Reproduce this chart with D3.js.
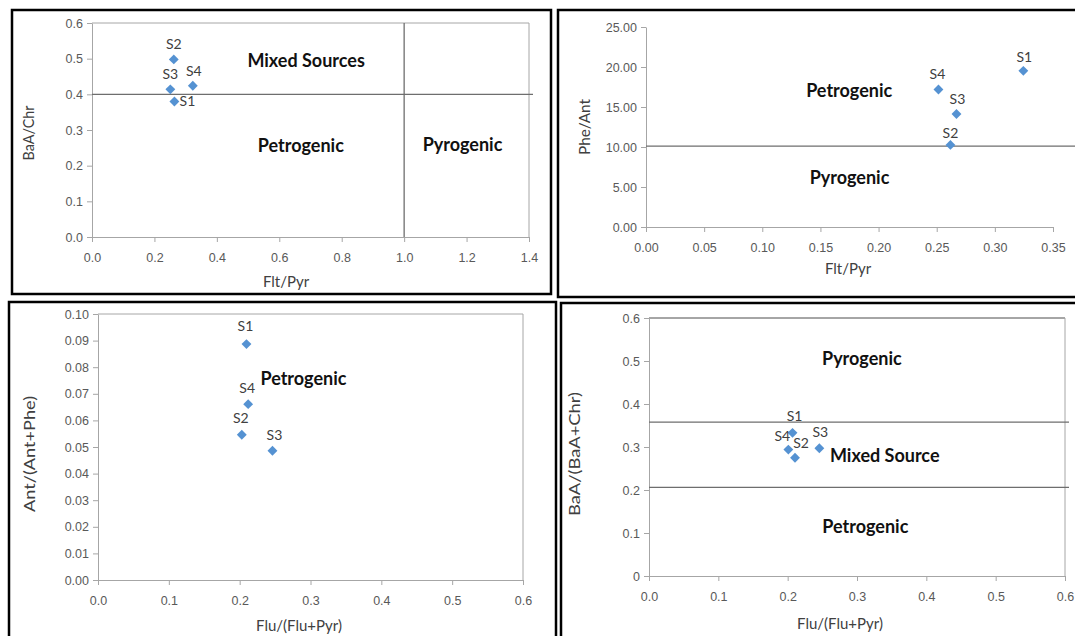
<!DOCTYPE html>
<html>
<head>
<meta charset="utf-8">
<script src="https://cdn.jsdelivr.net/npm/d3@7"></script>
<style>
  body { margin: 0; background: #fff; }
  svg { display: block; font-family: Lato, "Open Sans", sans-serif; }
  .tick text { fill: #595959; font-size: 12.5px; }
  .axis-title { fill: #404040; font-size: 15px; }
  .axis-title.y { font-size: 16px; }
  .region { fill: #111; font-size: 18px; font-weight: bold; }
  .pt-label { fill: #404040; font-size: 14px; }
</style>
</head>
<body>
<div id="chart"></div>
<script>
// sample sites
const sites = ["S1", "S2", "S3", "S4"];

// panel 1: Flt/Pyr vs BaA/Chr
const p1FltPyr = [0.264, 0.262, 0.251, 0.323];
const p1BaAChr = [0.380, 0.498, 0.414, 0.424];
// panel 2: Flt/Pyr vs Phe/Ant
const p2FltPyr = [0.3245, 0.2618, 0.267, 0.2515];
const p2PheAnt = [19.52, 10.26, 14.12, 17.19];
// panel 3: Flu/(Flu+Pyr) vs Ant/(Ant+Phe)
const p3FluFluPyr = [0.2096, 0.203, 0.2463, 0.212];
const p3AntAntPhe = [0.0887, 0.0546, 0.0486, 0.0661];
// panel 4: Flu/(Flu+Pyr) vs BaA/(BaA+Chr)
const p4FluFluPyr = [0.207, 0.2106, 0.2457, 0.201];
const p4BaABaAChr = [0.333, 0.275, 0.297, 0.294];

// source thresholds
const p1Thresholds = {x: [1.0], y: [0.4]};
const p2Thresholds = {x: [], y: [10.1]};
const p3Thresholds = {x: [], y: []};
const p4Thresholds = {x: [], y: [0.358, 0.206]};

// region labels [text, x, y]
const p1Regions = [["Mixed Sources", 0.686, 0.476], ["Petrogenic", 0.669, 0.238], ["Pyrogenic", 1.187, 0.241]];
const p2Regions = [["Petrogenic", 0.1747, 16.3], ["Pyrogenic", 0.175, 5.4]];
const p3Regions = [["Petrogenic", 0.29, 0.0732]];
const p4Regions = [["Pyrogenic", 0.307, 0.49], ["Mixed Source", 0.34, 0.264], ["Petrogenic", 0.312, 0.099]];

const W = 1075, H = 636;
const svg = d3.select("#chart").append("svg").attr("width", W).attr("height", H);

function drawPanel(cfg) {
  // outer black frame
  svg.append("rect")
    .attr("x", cfg.frame[0]).attr("y", cfg.frame[1])
    .attr("width", cfg.frame[2] - cfg.frame[0]).attr("height", cfg.frame[3] - cfg.frame[1])
    .attr("fill", "none").attr("stroke", "#000").attr("stroke-width", 2.5);

  const x = d3.scaleLinear().domain(cfg.xDomain).range(cfg.xRange);
  const y = d3.scaleLinear().domain(cfg.yDomain).range(cfg.yRange);
  const g = svg.append("g");

  // plot area box (top/right)
  if (cfg.box) {
    g.append("line")
      .attr("x1", cfg.xRange[0]).attr("x2", cfg.xRange[1])
      .attr("y1", cfg.yRange[1]).attr("y2", cfg.yRange[1])
      .attr("stroke", cfg.topColor || "#a6a6a6").attr("stroke-width", 1);
    g.append("line")
      .attr("x1", cfg.xRange[1]).attr("x2", cfg.xRange[1])
      .attr("y1", cfg.yRange[0]).attr("y2", cfg.yRange[1])
      .attr("stroke", "#a6a6a6").attr("stroke-width", 1);
  }

  const xAxis = d3.axisBottom(x).tickValues(cfg.xTicks).tickFormat(d3.format(cfg.xFmt)).tickSize(5).tickSizeOuter(0);
  const yAxis = d3.axisLeft(y).tickValues(cfg.yTicks).tickFormat(cfg.yFmtFn || d3.format(cfg.yFmt)).tickSize(5).tickSizeOuter(0);

  g.append("g").attr("transform", `translate(0,${cfg.yRange[0]})`).call(xAxis)
    .call(a => a.selectAll("line, path").attr("stroke", "#a6a6a6"))
    .call(a => a.selectAll("text").attr("dy", "1.35em"));
  g.append("g").attr("transform", `translate(${cfg.xRange[0]},0)`).call(yAxis)
    .call(a => a.selectAll("line, path").attr("stroke", "#a6a6a6"))
    .call(a => a.selectAll("text").attr("x", -9));

  // axis titles
  g.append("text").attr("class", "axis-title")
    .attr("x", cfg.xTitlePos[0]).attr("y", cfg.xTitlePos[1])
    .attr("text-anchor", "middle").text(cfg.xTitle);
  g.append("text").attr("class", "axis-title y")
    .attr("transform", `translate(${cfg.yTitlePos[0]},${cfg.yTitlePos[1]}) rotate(-90)`)
    .attr("text-anchor", "middle")
    .attr("textLength", cfg.yTitleLen).attr("lengthAdjust", "spacingAndGlyphs")
    .text(cfg.yTitle);

  // threshold lines
  cfg.thresholds.y.forEach(v => {
    g.append("line")
      .attr("x1", cfg.xRange[0]).attr("x2", cfg.hLineEnd)
      .attr("y1", y(v)).attr("y2", y(v))
      .attr("stroke", "#6e6e6e").attr("stroke-width", 1.3);
  });
  cfg.thresholds.x.forEach(v => {
    g.append("line")
      .attr("x1", x(v)).attr("x2", x(v))
      .attr("y1", cfg.yRange[0]).attr("y2", cfg.yRange[1])
      .attr("stroke", "#6e6e6e").attr("stroke-width", 1.3);
  });

  // region labels
  g.selectAll(".region").data(cfg.regions).join("text")
    .attr("class", "region")
    .attr("x", d => x(d[1])).attr("y", d => y(d[2]))
    .attr("text-anchor", "middle").text(d => d[0]);

  const pts = sites.map((s, i) => ({name: s, x: cfg.xs[i], y: cfg.ys[i], off: cfg.labelOff[i]}));

  g.selectAll(".pt").data(pts).join("path")
    .attr("class", "pt")
    .attr("d", d3.symbol(d3.symbolDiamond2, 62))
    .attr("transform", d => `translate(${x(d.x)},${y(d.y)})`)
    .attr("fill", "#5592d2");

  g.selectAll(".pt-label").data(pts).join("text")
    .attr("class", "pt-label")
    .attr("x", d => x(d.x) + d.off[0]).attr("y", d => y(d.y) + d.off[1])
    .attr("text-anchor", "middle").text(d => d.name);
}

const above = [0, -10];

drawPanel({
  frame: [12, 10, 551, 294],
  xDomain: [0, 1.4], xRange: [92, 529], yDomain: [0, 0.6], yRange: [237, 23],
  xTicks: d3.range(0, 1.41, 0.2), yTicks: d3.range(0, 0.61, 0.1), xFmt: ".1f", yFmt: ".1f",
  box: true, hLineEnd: 533,
  xTitle: "Flt/Pyr", xTitlePos: [286, 287], yTitle: "BaA/Chr", yTitlePos: [34, 133], yTitleLen: 55,
  thresholds: p1Thresholds, regions: p1Regions,
  xs: p1FltPyr, ys: p1BaAChr,
  labelOff: [[13, 5], above, above, [1, -10]]
});

drawPanel({
  frame: [558, 10, 1085, 297],
  xDomain: [0, 0.35], xRange: [646, 1053], yDomain: [0, 25], yRange: [227, 27],
  xTicks: d3.range(0, 0.351, 0.05), yTicks: d3.range(0, 25.1, 5), xFmt: ".2f", yFmt: ".2f",
  box: false, hLineEnd: 1075,
  xTitle: "Flt/Pyr", xTitlePos: [848, 274], yTitle: "Phe/Ant", yTitlePos: [590, 127], yTitleLen: 56,
  thresholds: p2Thresholds, regions: p2Regions,
  xs: p2FltPyr, ys: p2PheAnt,
  labelOff: [[1, -9], [0, -7], [1, -10], [-1, -10]]
});

drawPanel({
  frame: [9, 302, 556, 645],
  xDomain: [0, 0.6], xRange: [98, 523], yDomain: [0, 0.1], yRange: [580, 314],
  xTicks: d3.range(0, 0.61, 0.1), yTicks: d3.range(0, 0.101, 0.01), xFmt: ".1f", yFmt: ".2f",
  box: true, hLineEnd: 523,
  xTitle: "Flu/(Flu+Pyr)", xTitlePos: [299, 631], yTitle: "Ant/(Ant+Phe)", yTitlePos: [35, 454], yTitleLen: 116,
  thresholds: p3Thresholds, regions: p3Regions,
  xs: p3FluFluPyr, ys: p3AntAntPhe,
  labelOff: [[-1, -13], [-1, -12], [2, -11], [-1, -11]]
});

drawPanel({
  frame: [561, 303, 1085, 645],
  xDomain: [0, 0.6], xRange: [649, 1065], yDomain: [0, 0.6], yRange: [576, 318],
  xTicks: d3.range(0, 0.61, 0.1), yTicks: d3.range(0, 0.61, 0.1), xFmt: ".1f",
  yFmtFn: d => d === 0 ? "0" : d3.format(".1f")(d),
  box: true, topColor: "#4d4d4d", hLineEnd: 1069,
  xTitle: "Flu/(Flu+Pyr)", xTitlePos: [840, 629], yTitle: "BaA/(BaA+Chr)", yTitlePos: [580, 454], yTitleLen: 124,
  thresholds: p4Thresholds, regions: p4Regions,
  xs: p4FluFluPyr, ys: p4BaABaAChr,
  labelOff: [[2, -12], [6, -10], [1, -11], [-6, -9]]
});
</script>
</body>
</html>
